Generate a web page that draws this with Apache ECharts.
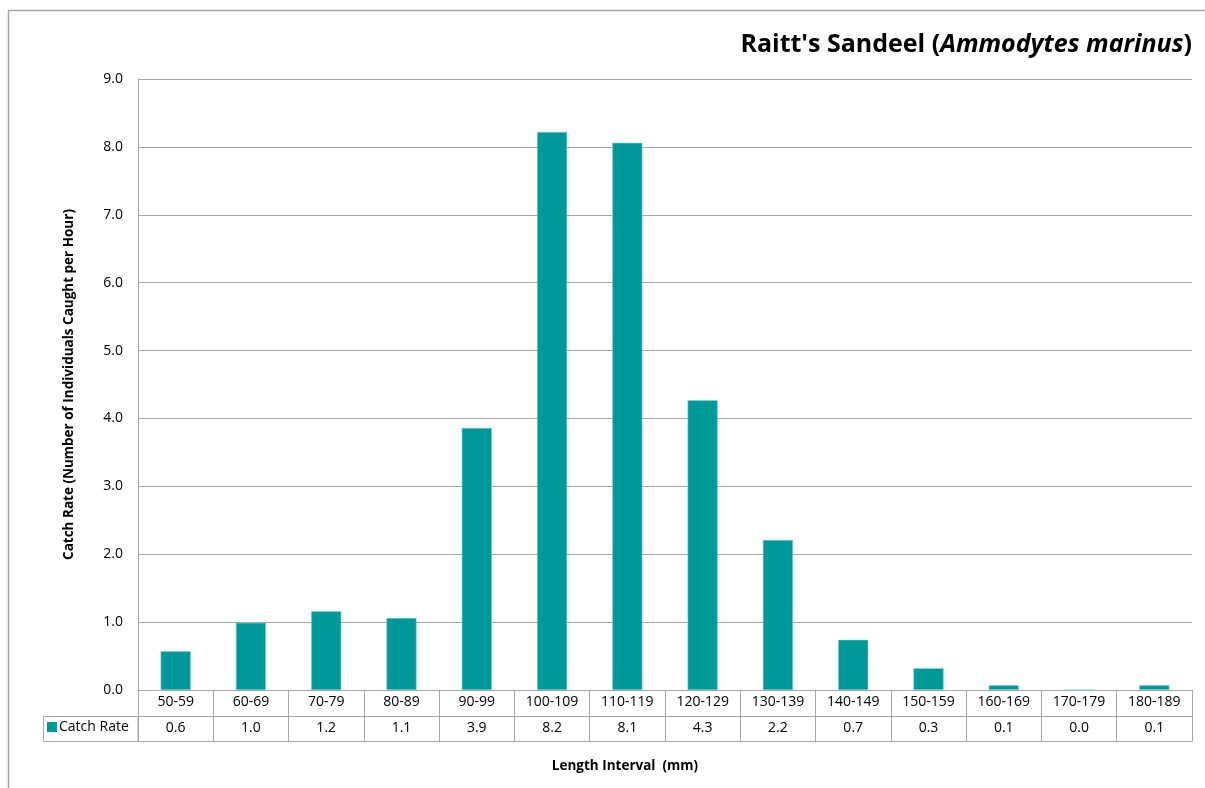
<!DOCTYPE html>
<html>
<head>
<meta charset="utf-8">
<script src="https://cdn.jsdelivr.net/npm/echarts@6/dist/echarts.min.js"></script>
<style>html,body{margin:0;padding:0;background:#fff}#c{width:1205px;height:788px}</style>
</head>
<body>
<div id="c"></div>
<script>
const categories = ['50-59','60-69','70-79','80-89','90-99','100-109','110-119','120-129','130-139','140-149','150-159','160-169','170-179','180-189'];
const catchRate = [0.57,0.99,1.16,1.06,3.86,8.22,8.06,4.27,2.21,0.74,0.32,0.07,0.0,0.07];
const yTicks = {min:0, max:9, interval:1};
const seriesName = 'Catch Rate';

const FONT = '"Open Sans", "Noto Sans", sans-serif';
const GRID = '#a6a6a6';
const TXT = '#000';
const chart = echarts.init(document.getElementById('c'), null, {renderer:'canvas'});
const option = {
  animation:false,
  backgroundColor:'#fff',
  textStyle:{fontFamily:FONT},
  grid:{left:138, right:13, top:79, bottom:98, containLabel:false},
  legend:{
    data:[seriesName], left:47, top:720, itemWidth:10, itemHeight:10, icon:'rect', itemGap:4,
    itemStyle:{borderWidth:0},
    textStyle:{fontFamily:FONT, fontSize:14, color:TXT, padding:[0,0,0,-3]}, selectedMode:false, padding:0
  },
  xAxis:[
    {type:'category', data:categories, boundaryGap:true,
     axisLine:{show:true, lineStyle:{color:GRID, width:1}},
     axisTick:{show:true, interval:0, length:51, lineStyle:{color:GRID}},
     axisLabel:{interval:0, margin:5, fontSize:14, color:TXT, fontFamily:FONT}},
    {type:'category', data:catchRate.map(v=>v.toFixed(1)), position:'bottom', offset:26,
     axisLine:{show:true, lineStyle:{color:GRID, width:1}}, axisTick:{show:false},
     axisLabel:{interval:0, margin:5, fontSize:14, color:TXT, fontFamily:FONT}},
    {type:'category', data:categories, position:'bottom', offset:51,
     axisLine:{show:true, lineStyle:{color:GRID, width:1}}, axisTick:{show:false},
     axisLabel:{show:false}}
  ],
  yAxis:{type:'value', min:yTicks.min, max:yTicks.max, interval:yTicks.interval,
    name:'Catch Rate (Number of Individuals Caught per Hour)', nameLocation:'middle', nameGap:62,
    nameTextStyle:{fontFamily:FONT, fontWeight:'bold', fontSize:13.5, color:TXT},
    axisLine:{show:true, lineStyle:{color:GRID}}, axisTick:{show:false},
    axisLabel:{formatter:v=>v.toFixed(1), margin:15, fontSize:14, color:TXT, fontFamily:FONT},
    splitLine:{show:true, lineStyle:{color:GRID, width:1}}},
  series:[{
    name:seriesName, type:'bar', data:catchRate, xAxisIndex:0, barWidth:'40%',
    itemStyle:{color:'#009999', borderColor:'#7fd0d0', borderWidth:0.6}
  }],
  graphic:[
    {type:'rect', shape:{x:8.5, y:10.5, width:1300, height:900}, style:{fill:null, stroke:'#a6a6a6', lineWidth:1.5}, silent:true, z:-1},
    {type:'rect', shape:{x:43.5, y:716.5, width:94.5, height:25}, style:{fill:null, stroke:GRID, lineWidth:1}, silent:true},
    {type:'text', x:1192, y:45, style:{
      text:'{b|Raitt\'s Sandeel (}{i|Ammodytes marinus}{b|)}', align:'right', verticalAlign:'middle',
      rich:{b:{fontFamily:FONT, fontWeight:'bold', fontSize:25, fill:TXT},
            i:{fontFamily:FONT, fontWeight:'bold', fontStyle:'italic', fontSize:25, fill:TXT}}}},
    {type:'text', x:625, y:766, style:{text:'Length Interval  (mm)', align:'center', verticalAlign:'middle',
      font:'bold 13.5px '+FONT, fill:TXT}}
  ]
};
chart.setOption(option);
</script>
</body>
</html>
